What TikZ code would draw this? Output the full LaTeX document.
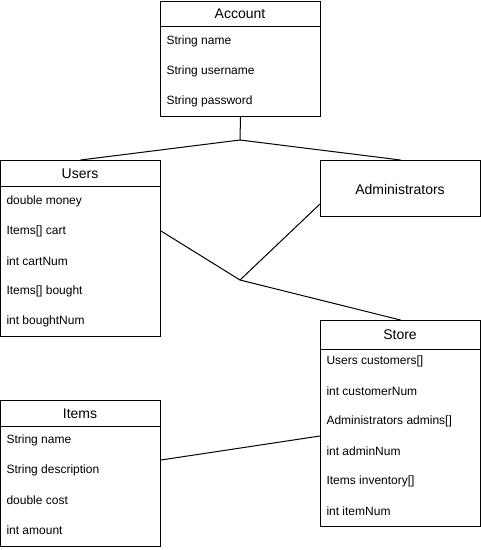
\documentclass[tikz,border=0pt]{standalone}
\usepackage{fontspec}
\setmainfont{Liberation Sans}
\begin{document}
\begin{tikzpicture}[x=1pt,y=-1pt,line width=1pt,
  box/.style={draw,anchor=north west,inner sep=0pt},
  title/.style={inner sep=0pt,font=\fontsize{14}{16}\selectfont},
  field/.style={anchor=west,inner sep=0pt,font=\fontsize{12}{14}\selectfont}]
\useasboundingbox (0,0) rectangle (481,550);
% classes
\node[box,minimum width=160pt,minimum height=115pt] (acc) at (160,1) {};
\node[title] (acc-t) at (240,14) {Account};
\draw (160,26) -- (320,26);
\foreach \t [count=\i] in {String name,String username,String password}
  \node[field] (acc-\i) at (166,{11+30*\i}) {\t};

\node[box,minimum width=160pt,minimum height=176pt] (usr) at (0,160) {};
\node[title] (usr-t) at (80,174) {Users};
\draw (0,186) -- (160,186);
\foreach \t [count=\i] in {double money,Items[] cart,int cartNum,Items[] bought,int boughtNum}
  \node[field] (usr-\i) at (6,{171+30*\i}) {\t};

\node[box,minimum width=160pt,minimum height=56pt] (adm) at (320,160) {};
\node[title] (adm-t) at (400,189) {Administrators};

\node[box,minimum width=160pt,minimum height=206pt] (sto) at (320,320) {};
\node[title] (sto-t) at (400,335) {Store};
\draw (320,349) -- (480,349);
\foreach \t [count=\i] in {Users customers[],int customerNum,Administrators admins[],int adminNum,Items inventory[],int itemNum}
  \node[field] (sto-\i) at (326,{331+30*\i}) {\t};

\node[box,minimum width=160pt,minimum height=146pt] (itm) at (0,400) {};
\node[title] (itm-t) at (80,414) {Items};
\draw (0,426.5) -- (160,426.5);
\foreach \t [count=\i] in {String name,String description,double cost,int amount}
  \node[field] (itm-\i) at (6,{410+30*\i}) {\t};

% connectors
\coordinate (jtop) at (240,140);
\coordinate (jmid) at (240,280);
\draw (acc.south) -- (jtop);
\draw (jtop) -- (usr.north);
\draw (jtop) -- (adm.north);
\draw (usr.east |- usr-2) -- (jmid) -- (sto.north);
\draw (adm.west |- 0,204) -- (jmid);
\draw (itm.east |- 0,460) -- (sto.west |- 0,436);
\end{tikzpicture}
\end{document}
